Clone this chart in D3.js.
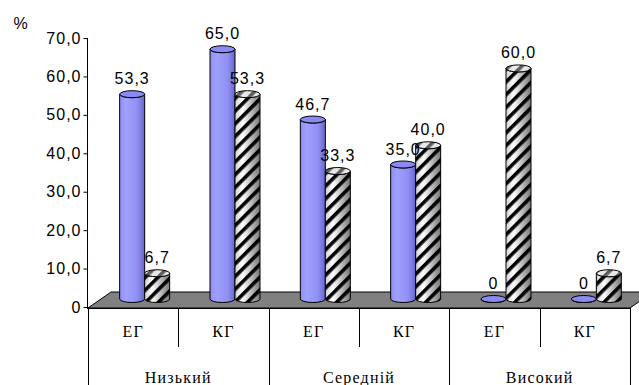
<!DOCTYPE html>
<html>
<head>
<meta charset="utf-8">
<script src="https://cdn.jsdelivr.net/npm/d3@7"></script>
<style>
  body { margin: 0; background: #fff; }
  .num { font-family: "Liberation Sans", Arial, sans-serif; font-size: 16px; font-weight: normal; fill: #000; letter-spacing: 1px; }
  .cat { font-family: "Liberation Serif", "Times New Roman", serif; font-size: 16px; font-weight: normal; fill: #000; letter-spacing: 1.2px; }
</style>
</head>
<body>
<div class="chart"></div>
<script>
var svgWidth = 639;
var svgHeight = 385;

// data
var groups = ["Низький", "Середній", "Високий"];
var subGroups = ["ЕГ", "КГ"];
var seriesBlue = [53.3, 65.0, 46.7, 35.0, 0, 0];
var seriesHatch = [6.7, 53.3, 33.3, 40.0, 60.0, 6.7];
var yTicks = [0, 10, 20, 30, 40, 50, 60, 70];

var cats = [];
groups.forEach(function(g) {
  subGroups.forEach(function(s) { cats.push(g + "|" + s); });
});

var plotLeft = 88, plotRight = 630;
var floorY = 308;
var depth = {dx: 23, dy: -16};
var shift = {dx: depth.dx / 2, dy: depth.dy / 2};

var svg = d3.select(".chart")
  .append("svg")
  .attr("width", svgWidth)
  .attr("height", svgHeight);

var defs = svg.append("defs");

// gradients for the cylinders
var gBlue = defs.append("linearGradient").attr("id", "gBlue");
gBlue.append("stop").attr("offset", "0%").attr("stop-color", "#8e8ef2");
gBlue.append("stop").attr("offset", "25%").attr("stop-color", "#a0a0ff");
gBlue.append("stop").attr("offset", "70%").attr("stop-color", "#9090f4");
gBlue.append("stop").attr("offset", "100%").attr("stop-color", "#6666cc");

var gGray = defs.append("linearGradient").attr("id", "gGray");
gGray.append("stop").attr("offset", "0%").attr("stop-color", "#d0d0d0");
gGray.append("stop").attr("offset", "30%").attr("stop-color", "#ffffff");
gGray.append("stop").attr("offset", "100%").attr("stop-color", "#777777");

var pat = defs.append("pattern")
  .attr("id", "hatch")
  .attr("patternUnits", "userSpaceOnUse")
  .attr("width", 9).attr("height", 9)
  .attr("patternTransform", "rotate(45)");
pat.append("rect").attr("x", 0).attr("y", 0).attr("width", 3.6).attr("height", 9).attr("fill", "#000");

// scales
var x = d3.scaleBand().domain(cats).range([plotLeft, plotRight]);
var y = d3.scaleLinear().domain([0, 70]).range([307, 38]);

// floor
svg.append("path")
  .attr("d", "M" + plotLeft + "," + floorY +
    " L" + (plotLeft + depth.dx) + "," + (floorY + depth.dy) +
    " L" + (plotRight + depth.dx) + "," + (floorY + depth.dy) +
    " L" + plotRight + "," + floorY + " Z")
  .attr("fill", "#808080")
  .attr("stroke", "#000")
  .attr("stroke-width", 1);

// y axis
var leftAxis = d3.axisLeft(y)
  .tickValues(yTicks)
  .tickSize(4)
  .tickSizeOuter(0)
  .tickFormat(function(d) { return d === 0 ? "0" : d.toFixed(1).replace(".", ","); });

var yAxis = svg.append("g")
  .attr("transform", "translate(87.5,0)")
  .call(leftAxis)
  .attr("font-size", null)
  .attr("font-family", null);
yAxis.selectAll("text").attr("class", "num").attr("x", -6);
yAxis.selectAll("path, line").attr("stroke", "#000");
yAxis.select(".domain").attr("d", "M0," + y(70) + "V" + floorY);

svg.append("text")
  .attr("class", "num")
  .attr("x", 21)
  .attr("y", 29)
  .attr("text-anchor", "middle")
  .text("%");

// category axis frame
var axisG = svg.append("g").attr("stroke", "#000").attr("stroke-width", 1);
axisG.append("line").attr("x1", 87).attr("x2", plotRight + 0.5).attr("y1", floorY + 0.5).attr("y2", floorY + 0.5);
axisG.append("line").attr("x1", plotLeft + 0.5).attr("x2", plotLeft + 0.5).attr("y1", floorY).attr("y2", svgHeight);
cats.forEach(function(c, i) {
  var xr = Math.round(x(c) + x.bandwidth()) + 0.5;
  var outer = (i % 2 === 1);
  axisG.append("line")
    .attr("x1", xr).attr("x2", xr)
    .attr("y1", floorY)
    .attr("y2", outer ? svgHeight : 347);
});

svg.selectAll(".subLabel")
  .data(cats)
  .enter()
  .append("text")
  .attr("class", "cat")
  .attr("x", function(d) { return x(d) + x.bandwidth() / 2; })
  .attr("y", 337)
  .attr("text-anchor", "middle")
  .text(function(d) { return d.split("|")[1]; });

svg.selectAll(".groupLabel")
  .data(groups)
  .enter()
  .append("text")
  .attr("class", "cat")
  .attr("x", function(g) { return x(g + "|" + subGroups[0]) + x.bandwidth(); })
  .attr("y", 383)
  .attr("text-anchor", "middle")
  .text(function(d) { return d; });

// cylinders
var barW = 25, ry = 3.5;
var barsG = svg.append("g");

function cylinder(x0, v, body, hatch) {
  var t = y(v) + shift.dy;
  var b = y(0) + shift.dy;
  var rx = barW / 2;
  var d = "M" + x0 + "," + t + " L" + x0 + "," + b +
    " A" + rx + "," + ry + " 0 0 0 " + (x0 + barW) + "," + b +
    " L" + (x0 + barW) + "," + t +
    " A" + rx + "," + ry + " 0 0 1 " + x0 + "," + t + " Z";
  barsG.append("path").attr("d", d).attr("fill", body);
  if (hatch) barsG.append("path").attr("d", d).attr("fill", "url(#hatch)");
  barsG.append("path").attr("d", d).attr("fill", "none").attr("stroke", "#000").attr("stroke-width", 1);
  barsG.append("ellipse")
    .attr("cx", x0 + rx).attr("cy", t)
    .attr("rx", rx).attr("ry", ry)
    .attr("fill", hatch ? "#e8e8e8" : "#8a8af2")
    .attr("stroke", "#000");
  if (hatch) {
    barsG.append("ellipse")
      .attr("cx", x0 + rx).attr("cy", t)
      .attr("rx", rx).attr("ry", ry)
      .attr("fill", "url(#hatch)")
      .attr("opacity", 0.6);
  }
  return t;
}

function fmt(v) { return v === 0 ? "0" : v.toFixed(1).replace(".", ","); }

cats.forEach(function(c, i) {
  var mid = x(c) + x.bandwidth() / 2 + shift.dx;
  var xb = mid - barW;
  var xh = mid;
  var tb = cylinder(xb, seriesBlue[i], "url(#gBlue)", false);
  var th = cylinder(xh, seriesHatch[i], "url(#gGray)", true);
  svg.append("text").attr("class", "num")
    .attr("x", xb + barW / 2).attr("y", tb - 10)
    .attr("text-anchor", "middle")
    .text(fmt(seriesBlue[i]));
  svg.append("text").attr("class", "num")
    .attr("x", xh + barW / 2).attr("y", th - 10)
    .attr("text-anchor", "middle")
    .text(fmt(seriesHatch[i]));
});
</script>
</body>
</html>
